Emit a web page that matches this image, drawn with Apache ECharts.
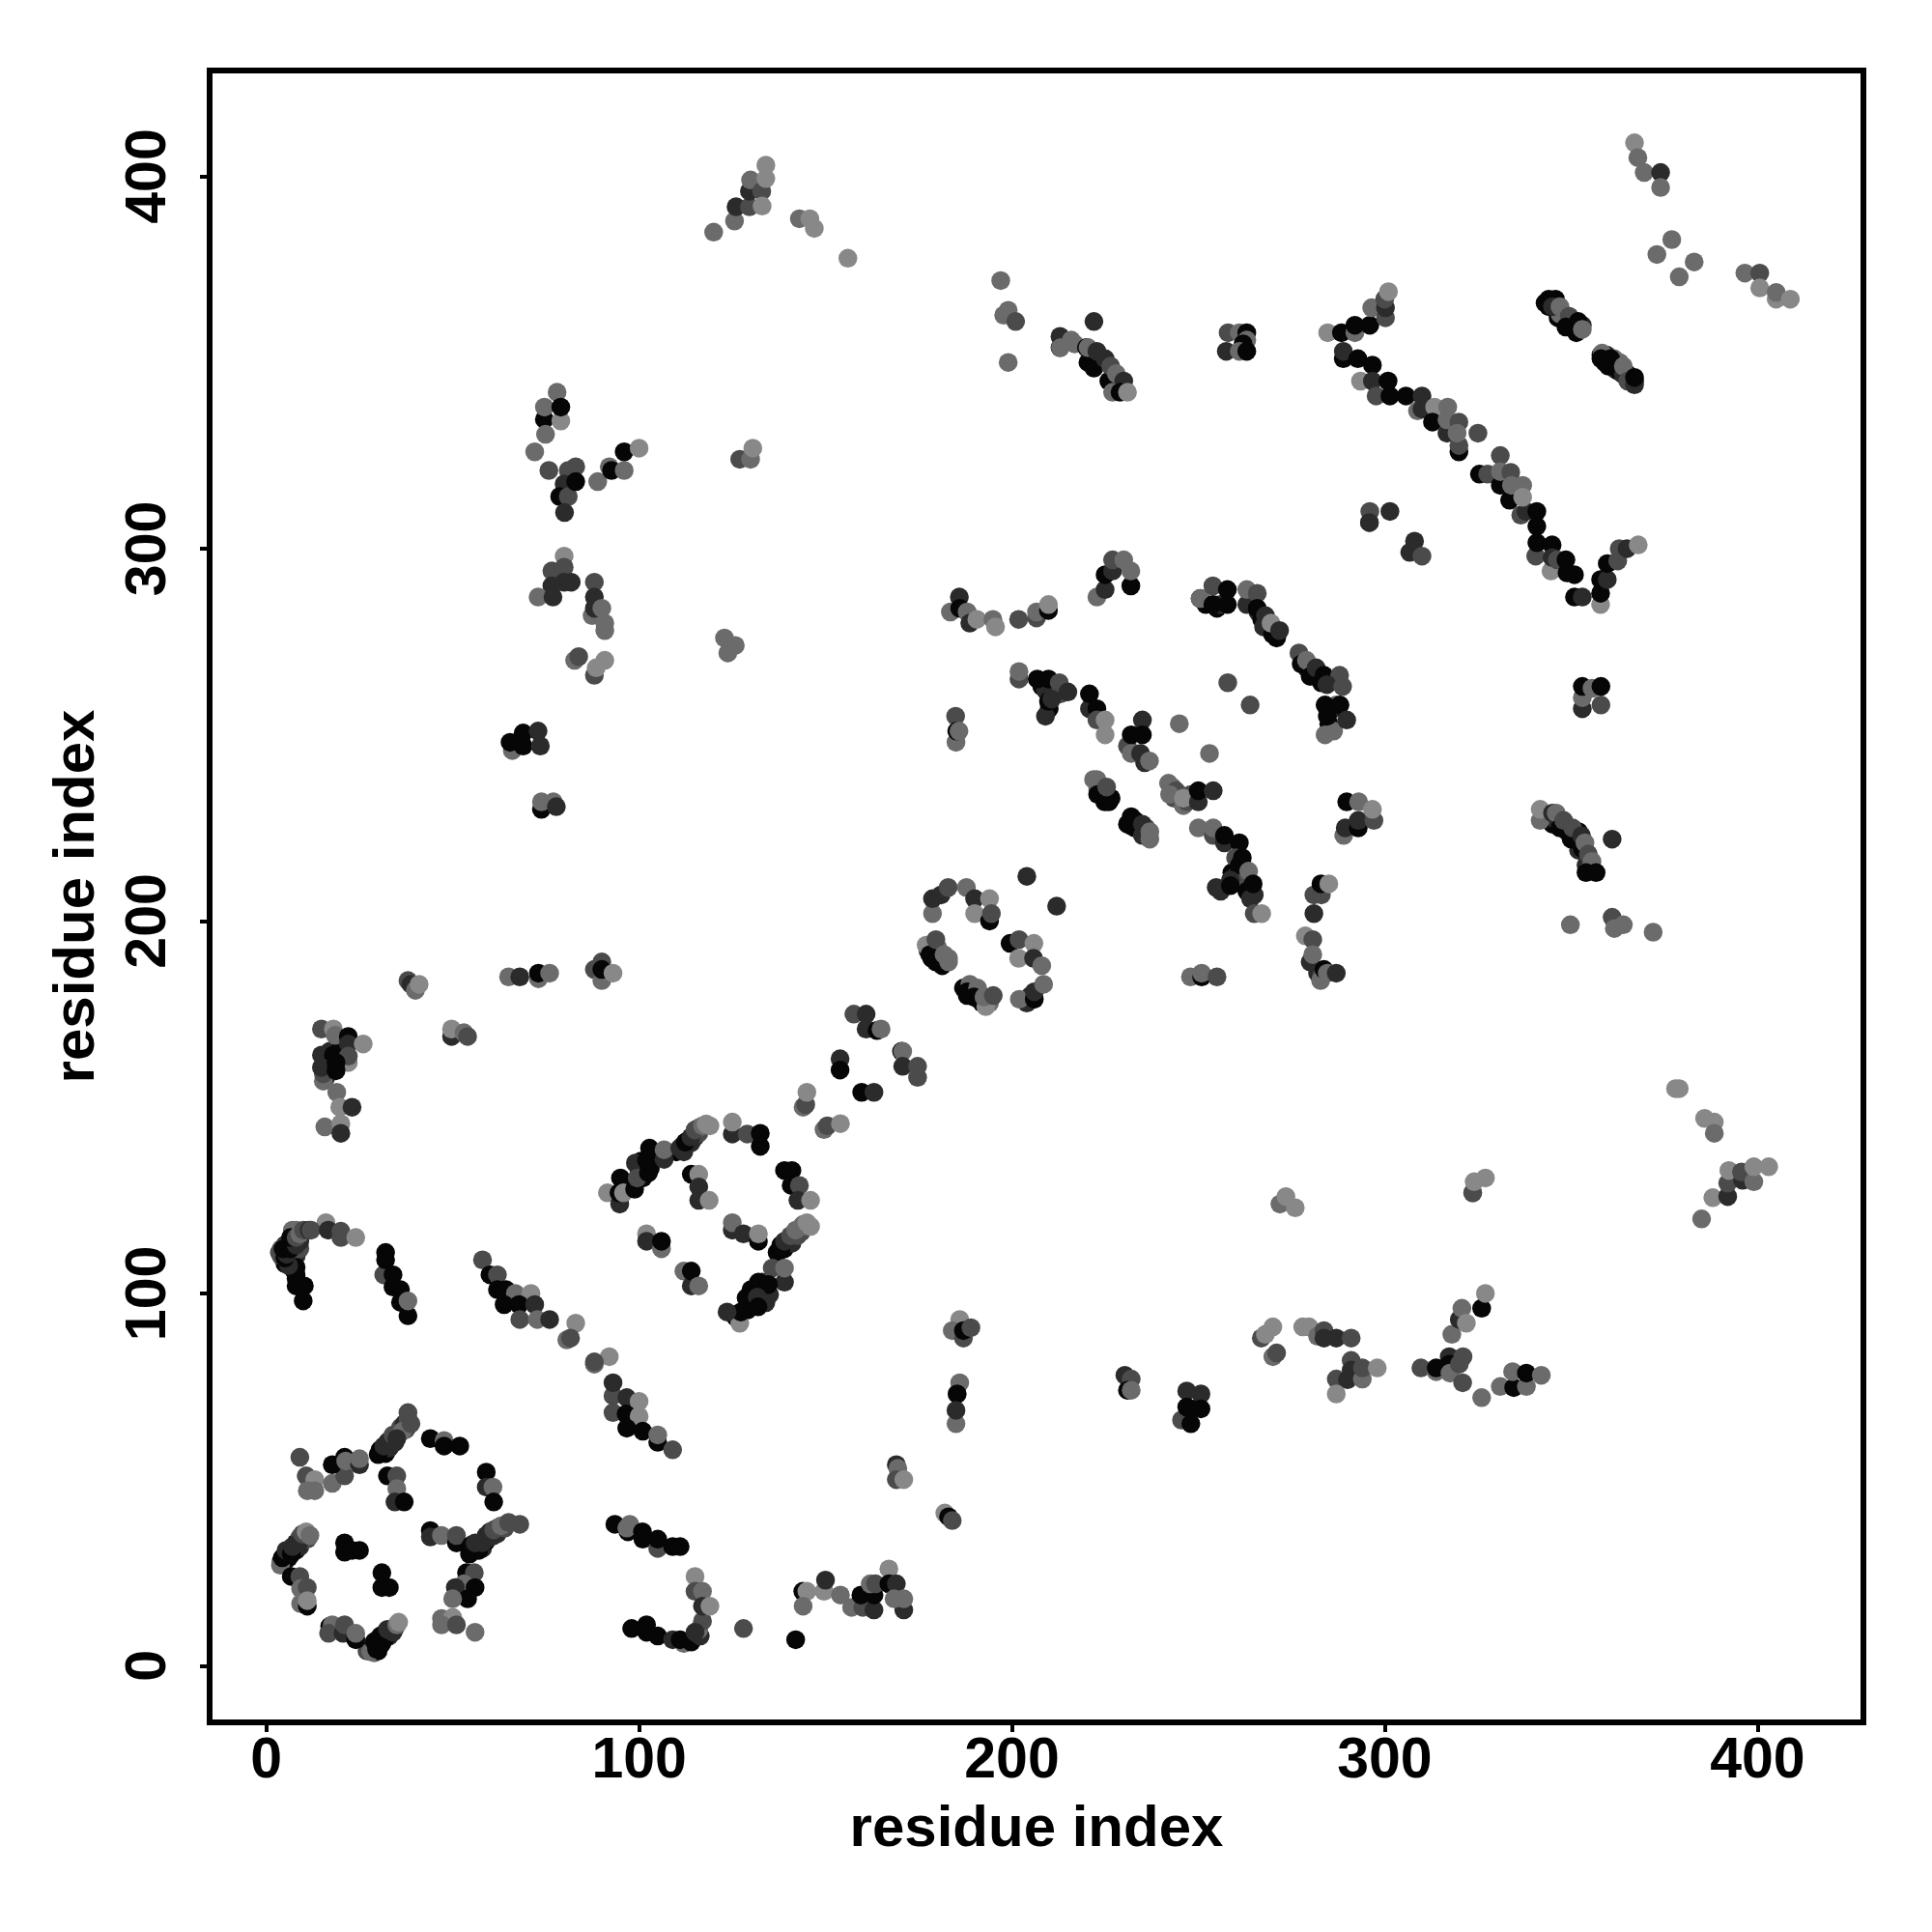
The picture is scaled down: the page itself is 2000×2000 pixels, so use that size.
<!DOCTYPE html>
<html><head><meta charset="utf-8">
<style>html,body{margin:0;padding:0;background:#fff}#c{width:2000px;height:2000px}</style>
<script src="https://cdn.jsdelivr.net/npm/echarts@6/dist/echarts.min.js"></script>
</head><body><div id="c"></div>
<script>
// each contact: [residue i, residue j, strength level 0 (strong) .. 4 (weak)]
const tickValues=[0,100,200,300,400];
const underBandsA=[[30.5,58,0],[32,57,0],[32.5,60,0],[33,58.5,1],[34,61,0],[34.5,60,1],[35.5,62.5,1],[36,64,2],[37,65,1],[37.5,63.5,2],[38,66.5,2],[54.5,30,0],[56,31,0],[57,33,0],[58,31.5,1],[59,33.5,0],[60,34.5,1],[61,35,1],[62,37,2],[62,35.5,1],[64,37,2],[4,28,0],[5,28,1],[6,29,0],[6,31,0],[7,30.5,0],[8,31,0],[8,33,0],[9,32,1],[10,34,1],[9,34.5,2],[11,34,2],[27,4,2],[29,3.5,3],[28.5,5,0],[30,4,0],[30,5,0],[31.5,7,0],[33,8,1],[33.5,9.5,1],[32,9,1],[34.5,10,2]];
const underBandsB=[[5,108,0],[6,109,0],[7,110,0],[7.5,108,0],[6,111,0],[8,110,1],[7.5,106,0],[8,107,0],[8,104,0],[9,112,2],[9,114,1],[7,117,3],[8,117,3],[5,113,1],[4,112,3],[4,110,2],[110,138,0],[111.5,139.5,1],[113,141,0],[114,140.5,1],[115,142,1],[116,143,2],[116,144.5,3],[112,138,1],[137,111,0],[138,113,0],[139,112,0],[140,114,0],[141,113.5,1],[141.5,116,1],[142.5,115.5,2],[143.5,116.5,2],[144,118.5,3],[100,133,0],[101,131,0],[103,133.5,0],[103.5,136.5,0],[100.5,135.5,0],[97,129,0],[96,130,0],[130,101,0],[133,100,0],[129.5,97,0],[133,103,1],[130,96.4,0],[126,93.5,0],[134,97.5,1],[129,95.5,0]];
const underBandsC=[[343,366,0],[344,365,0],[346,364,0],[346.5,362,0],[348,363,1],[350,361,0],[351,359,0],[353,360,1],[350,360,2],[347,363,3],[358,352,0],[359,350,0],[361,350,0],[362,348,1],[362,349,2],[363,347.5,0],[365,347,0],[366,345,0],[366,346,2],[359.5,352,1],[361.5,351,3],[363,350,3],[367,345,0],[252,285,0],[255,284,0],[256,285,1],[266,283,1],[267,281,0],[269,279,0],[271,276,0],[279,268,1],[280,267,0],[281,266,2],[283,264,0],[286,257,0],[285,253,0],[284,250,3],[285,256,1],[287,258,3],[208,263,0],[211,262,0],[209,262,1],[210,257,0],[213,261,2]];
const underBandsD=[[224,234,0],[225,235,1],[226,232,0],[243,236,3],[245,234,3],[243.5,233,2],[246,231,3],[248,234,2],[231,226,0],[233,225,0],[232,228,0],[236,225,2],[259,213,0],[260,212,1],[261,213,0],[262,212,2],[263,208,0],[264,206,1],[256,208,1],[177.5,192,1],[178.5,190,0],[180,190,1],[180,193,3],[183,190,3],[187,182,0],[188,180,0],[190,181,1],[191,179,1],[192,178,0],[194,178,3],[205,180,1],[204,178,1],[343,228,1],[344,227,0],[345,226,0],[346,227,1],[349,224,0],[351,223,0],[352,219,1],[352,224,0],[354,215,1],[355,214,2],[354.5,213.5,3],[282,186,1],[283,185,2],[16,162,0],[17,165,1],[16,158,1],[16,163,1],[20,162,0],[20,166,0]];
const upperMidA=[[197,372,3],[197.8,362.7,3],[199,364,3],[201,361,2],[199,350,3],[222,361,1],[258,358,2],[261,358,3],[263,358,0],[263,356,3],[257.5,353,1],[262,355,0],[261,353,3],[263,353,0]];
const upperMidB=[[212.9,357,1],[212.9,354,0],[213,354,3],[215.9,356,3],[216.8,355,3],[220,354,0],[220.4,350,0],[220.4,354,3],[222,348.5,0],[222.8,353,1],[225,351,1],[226,345,0],[226.5,349,2],[228,347,3],[230,345,1],[227,342,3],[229,342,0],[231,342,4]];
const lowerLeftArc=[[16,119,4],[8,105,0],[6,107.5,1],[3.5,111,2],[5,109.5,0],[5.5,110.5,1],[4.5,112,0],[6.5,112,0],[7,113.5,0],[8,113,1],[6.5,115,0],[8,115,2],[9,116,3],[10,117,2],[11.5,117,1],[12,117,2],[16.6,117,1],[20,116.7,2],[20,115,2],[24,115,4],[9.9,98,0],[8,102,0],[10.2,102,0]];
const stem1=[[31.5,105,2],[32,111,0],[32,109,0],[34,105,0],[34,101.7,0],[36,101,0],[36,97.6,0],[38,94,0],[38,98,3]];
const diagA=[[58,109,2],[60,105,0],[62,105,2],[62,101,0],[64.3,101,0],[66.8,100,3],[71,100,4],[67.8,97,0],[63.8,97,0],[72,97,1],[68,93,2],[72.7,93,3],[76,93,1],[83,92,4],[80.6,87.5,3],[81.6,88,2],[92,83,4],[88,81,3],[88,81.6,2]];
const diagB=[[93,72.5,2],[93,68,2],[93,76,1],[96.7,72,1],[100,71,4],[96.5,67.6,0],[100,67,4],[96.7,63.8,0],[101,63,0],[105,60,0],[105,62,3],[109,58,2]];
const ringA1=[[9,56,2],[10.7,51,2],[13,50,4],[11,47,3],[13,47,3],[17.7,49,3],[21,51,2],[17.7,54,0],[21,56,0],[21.3,55,3],[25,54,1],[25,55.6,3],[30,56.7,0],[31.5,59,1],[33,60.5,1],[34,62,2],[36.5,63,3],[35,61,1],[38,68,2],[38.8,65,2]];
const ringA2=[[32.5,51,0],[35,51,2],[35,47.6,3],[34.5,44,1],[37,44,0],[44,61,0],[47.7,60.5,3],[47.7,59,0],[51.9,59,0],[59,52,0],[59,48,1],[60.8,48,3],[61,44,0],[44,36.3,0],[44,34.6,1],[47,35,3],[51,33,0],[51,35,2]];
const ringA3=[[57,31,0],[55,32.4,0],[56,33,1],[58,33,1],[59,35,1],[60,36,1],[61,36.5,2],[63,37.6,3],[65,38.5,2],[68,38,2],[3.8,27,3],[4.3,29,0],[5.3,31,1],[6.7,30,0],[7,32,1],[8.7,33,1],[9.7,35.4,2],[10.7,36,4],[11.7,35,3],[21,33,0],[21,30.5,0],[23,31,0],[25,31,0],[31,25,0],[31,21,0],[33,21,0]];
const ringA4=[[6.7,24,0],[9,24,2],[9.2,20.7,3],[11,21,2],[9.2,16.7,3],[11,16,0],[11,17.5,4],[53.7,25,0],[55.8,25,2],[53,22,3],[56,21,0],[50.7,21,1],[54,18,0],[50,18,3],[47,12.7,3],[50,13,4],[47,11,3],[51,11,2],[56,9,3],[17,10.6,0],[17.7,11,3],[16.7,8.7,2],[20.6,8.7,1],[21,11,2],[24,7,0],[24,8.7,3],[28,3.8,3],[29.6,4.4,0],[29,6.5,0],[31,6,0],[30.6,8,0],[32,7.6,0],[32.5,9.8,1],[34,9,1],[35,11,3],[35.5,11.7,4]];
const ringB1=[[91.5,127,4],[94.8,124,1],[95,131,0],[94.6,127,0],[95.8,127,4],[98.8,128,0],[99,135,1],[99.5,131,2],[102.5,132.4,0],[102,135.7,0],[102.8,139,0],[106.7,136,1],[106.7,138.6,3],[110.9,139,1],[112.4,140.6,0],[113.9,142,1],[115,143.9,2],[117,145,3],[118,145.5,4],[119,145,4]];
const ringB2=[[125,142.8,1],[125,146,4],[129,142.8,2],[132.5,143,0],[132.5,139.5,0],[139,133,0],[141,133,0],[140.8,129,0],[143,129,2],[142.6,125,1],[146,125,4],[114,132,0],[116,132,4],[116,128.6,1],[116,125,1],[118.8,125,4],[125,117,1],[125,119,3],[128,116,1],[132,114,0],[132,116,4],[102,116,4],[102,114,1],[106,112,3],[106,114,0],[112,106,3],[114,102,1],[114,106,0],[116,102,3]];
const ringB3=[[138,111.7,0],[139,114,1],[140.6,115.5,2],[142,117,3],[143.6,118,3],[145,119,4],[146,118,4],[135.7,106.8,2],[139,103,1],[139,106.8,3],[132,103,0],[135,99.7,1],[134.7,102.4,0],[128.7,98.8,0],[131.7,99,1],[131.9,96.4,0],[127,92,4],[127.3,95,0],[123.6,95,1]];
const lowerMid=[[186,93,4],[184,90,3],[187,88,2],[187,90,0],[189,90.8,2],[185.3,73,3],[186,76,3],[185.3,73,0],[185,65,3],[185,68.6,1],[169,54,1],[169.4,53,3],[169,50,2],[171,50,4],[182,41,4],[183,40,0],[184,39,2],[230.3,78,1],[232,77,2],[231,74,0],[232,74,3]];
const stripC=[[93.5,38,0],[97,36,0],[96.7,37,3],[97.5,38,3],[100.9,36,0],[101,34,0],[105,31.5,2],[105,34,0],[109,32,0],[111,32,0]];
const hookD=[[98,10,0],[102,9,0],[102,11,0],[105,8,0],[109,7,1],[112,6,3],[111,7,0],[114,6.4,0],[116.4,8,1],[116,9.7,3],[117,12,2],[115,9,1],[115,24,4],[115,20,2],[117,20,3],[117,16,1],[119,16,4],[128,10,2],[142,7,0]];
const clusterE=[[143.9,20,0],[145,20,4],[144,16,3],[149.6,20,4],[150,23,1],[154,19,3],[157,15.7,3],[160,15.7,2],[159.5,19,0],[163,15,1],[163,19,0],[162,22,3],[163.4,22,2],[167,26,4],[167,22,0],[169,22,1],[171,15,1],[168.4,18,3],[171,18,3]];
const topMid=[[120,385,3],[125.6,388,3],[126,391.8,1],[129.6,391.8,2],[129.6,396,1],[129.9,399,3],[132.9,396,2],[133,392,4],[134,399.4,4],[134,403,4],[143,388.6,3],[145.8,388.6,4],[147,386,4],[156,378,4]];
const upperLeft1=[[78,342,3],[74.6,334.7,0],[74.6,338,3],[79,334.3,4],[79,338,0],[74.9,330.7,3],[72,326,3],[75.8,321,2],[81,321,2],[79.9,317.4,1],[78.7,314,0],[81,314,2],[83,322,2],[83,318,0],[80,309.7,1],[88.9,318,3],[92,322,3],[92.6,321,0],[96,321,3],[96,326,0],[100,327,4],[127,324,2],[129.9,324,3],[130.5,327,4]];
const upperLeft2=[[79.9,298,4],[76.6,294,2],[79.9,295,2],[76.6,290,1],[79.9,291,1],[81.8,291,1],[72.9,287,3],[76.9,287,1],[88,291,2],[88,287,1],[87.4,282,3],[88,284,1],[90,284,3],[90.8,280,3],[90.8,278,3],[122.9,276,3],[123.8,272,3],[125.8,274,3],[82.7,270,3],[83.8,271,2],[88,266,2],[88.5,268,4],[90.8,270,4]];
const leftMid1=[[66,245.8,3],[65.4,248,0],[68.9,250.5,0],[68.9,247,0],[72.9,251,1],[73.5,247,1],[73.8,230,0],[73.8,232,3],[77,232,3],[77.8,230.7,1],[38,184,2],[38.8,183,1],[40,181.4,3],[41,183,4],[65,185,3],[68,185,1],[73,184.5,3],[73,186,0],[76,186,3],[88,187,2],[90,189,2],[90,184,3],[90,187,0],[93,186,4]];
const leftMid2=[[14.8,171,2],[18,171,4],[18.5,169.3,3],[22,169,0],[22,167,1],[26,167,4],[15.3,157,3],[15.3,159,2],[14.8,164,1],[18,164,0],[22,162,4],[22,163.7,2],[14.8,160.7,1],[18.7,162,0],[18.7,159.8,0],[18.9,154,3],[19.7,150,4],[23,150,1],[15.7,144.7,3],[20,145.6,4],[20,143,1],[49.7,169,1],[49.7,171,4],[53,170,3],[54,169,2]];
const leftMid3=[[157.6,175,2],[160.9,175,1],[160.9,171,1],[163.8,170.6,0],[164.9,171,3],[153.9,163,1],[153.9,160,0],[159.7,154,0],[163,154,1],[170.4,165,0],[170.7,165,3],[170.7,161,1],[174.7,161,2],[174.7,158,2],[144,150,3],[144.7,150.7,2],[145,154,4],[149.6,144,3],[150.5,145,2],[154,145.6,4]];
const midBands1=[[185.9,287,1],[183.5,283,3],[186,284,0],[188,283,3],[188.7,280,1],[190.6,281,4],[194.9,281,3],[195.6,279,4],[201.8,281,2],[206.6,281.4,2],[206.6,283,3],[209.8,283.4,0],[209.8,285,4],[222.8,287,3],[225,289,1],[225,293,0],[227,294,1],[227,297,2],[230,297,3],[231.9,290,0],[231.9,294,3]];
const midBands2=[[250.5,286.6,0],[250.5,286.6,3],[253.9,285,0],[253.9,290,2],[257.8,289,0],[257.8,285,0],[263,285,1],[263,289,3],[265.8,288,2],[265.8,284,0],[268,282,1],[267.5,279,1],[269.9,277,0],[269.5,280,4],[271.8,278,1],[277,272,2],[277.6,269,0],[279,270,3],[280,265.7,0],[281.6,268,1],[283.7,266,0],[287.9,266,2],[284.5,263.5,1],[288.7,263,2],[284,258,0],[288,258,0],[286.3,251,3],[284.6,255,0],[289.8,254,1]];
const midBands3=[[201.9,265,2],[201.9,267,3],[206.8,265,0],[209.8,265,0],[212.7,264,2],[209,255,1],[209.8,259,0],[210.7,259.6,1],[215,261.5,1],[220.8,257,1],[220.8,261,0],[222.8,257,0],[222.8,254,2],[225,250,4],[225,254,4],[184.9,255,2],[185,248,3],[185.2,251,0],[185.8,251,3],[231,247,2],[232,250,0],[232,245,3],[234.5,245,1],[235,254,1],[235,250,0],[235.6,242.5,1],[236.9,243,3],[244.9,253,3],[253,245,3],[257.9,264,2],[263.9,258,2]];
const midBands4=[[221.9,238,3],[222.8,238,3],[223,235.5,3],[224.9,232,0],[226.6,233,0],[223,234,0],[225.4,236,2],[242,237,3],[244,235,2],[242.3,234,3],[247,232,2],[246,233,4],[250,232,1],[250,235,0],[254,235,1],[232,225.6,0],[233,227,0],[235,226,1],[235,223,1],[237,222,3],[237,224,3]];
const midBands5=[[250,225,3],[254,223,2],[254,225,3],[257,221,1],[257,223,0],[261,221,0],[260,217,2],[261.8,217,0],[261,215,0],[263.5,213.4,3],[254.8,209,1],[258.6,211,1],[258.6,209.5,0],[265,207,1],[264.7,210,0],[265,202,2],[267,202,4],[204,212,1],[212,204,1]];
const ringC=[[178.7,202,3],[178.7,206,1],[181,207,1],[182.9,209,2],[187.8,209,3],[190,206,1],[190,202,4],[194,206,4],[194,200,0],[194.5,202,2],[177,193.5,4],[178,191,0],[179.6,195,2],[179.6,189,0],[181.3,188,0],[181.8,191,3],[183,189,3],[199.5,194,0],[201.9,195,2],[205.9,194,4],[201.8,190,4],[205.8,190,1],[208,188,3],[202,179,3],[206,179,0],[206,181,1],[208.5,183,3],[188.7,183,3],[188,181,0],[190.8,182,3],[189.8,179.6,0],[193,177,4],[192.5,179.6,3],[195,180,2]];
const rightMid=[[289,223,3],[289.4,225,1],[292.9,225,0],[292.9,227,1],[297.1,227,2],[289.8,232,0],[293,232,3],[296.7,230,4],[281,207,2],[283,207,2],[282.9,210,0],[285,210,4],[281,202,1],[278.7,196,4],[280.7,195,2],[280,189,1],[280.7,191,3],[282.8,184,3],[283.7,187,0],[284.6,186,3],[287,186,1],[247.9,185,3],[250.9,185,0],[250.9,186,3],[255,185,2]];
const longBand1=[[284.7,358,4],[288.4,358,0],[292,358,3],[292,360,0],[296,360,0],[296.5,364.7,3],[300.2,362,2],[300.2,364.7,1],[300,367,2],[301,369,4],[288.9,351,0],[288.9,353,1],[292.8,351,0],[296.7,349.3,0],[293.5,345,4],[296.7,345,1],[300.9,345,0],[297.7,341,2],[301.4,341,0],[305.7,341,0],[310,341,1],[308.8,337,3],[310,337.5,1],[313.4,338,4],[316.9,338,3],[312.8,334,0],[316.7,331,1],[316.7,334.6,3],[319.9,334,2],[319.9,326,0],[319.9,327.7,2],[319.4,331,3],[325,331,2]];
const longBand2=[[331,325,2],[325.4,320,0],[327.6,320,2],[331,317,0],[331,320.7,3],[333.8,320.5,2],[333.5,313,0],[334,317,3],[336.5,309,2],[337,317,3],[337.9,310,1],[337,313.8,4],[340.8,310,0],[340.8,306,0],[340.5,298,2],[340.8,301.6,0],[344.6,294,4],[344.9,301,0],[344.9,297.6,1],[346.3,297,2],[348.6,297,0],[348.9,293.5,0],[350.9,293,0],[350.9,287,0],[353,287,1],[357.9,285,4],[357.9,288,0],[357.9,291.7,0],[359.7,291.7,1],[359.7,296,0],[362.5,296.7,2],[362.9,300,2],[365,300,1],[368,301,4]];
const rightSmall=[[353,257,1],[353,260,3],[353,263,0],[358,258,2],[355.6,262.5,3],[358,263,0],[295.9,307,3],[296,310,2],[301.4,310,1],[295.9,307,1],[308,302,1],[306.7,299,1],[310,298,2]];
const shortBands=[[344,367,0],[345.8,367,0],[345,365,1],[347,365,3],[349.5,362.4,2],[348.6,359.5,0],[351.9,361,0],[351.4,358,0],[353,358.9,3],[358.3,352.5,3],[358,351,0],[360,349,0],[360.6,351,0],[364,346.7,1],[364,349,3],[365.2,345,2],[367,344,1],[367,346,0]];
const rightBand=[[341.7,227,3],[341.7,230,4],[345,229,1],[346,229,3],[347,225,0],[348,227,2],[350,222,0],[350.4,225,2],[353,219.5,0],[352.8,222.9,1],[353.7,221,3],[354.6,218,2],[355.6,216,3],[354,213,0],[356.7,213,0],[361,222,1],[349.8,199,3],[361,201,2],[361.6,198,3],[364,199,3],[372,197,3]];
const topRight=[[367,409,4],[367.9,405,3],[369.6,401,3],[374,401,1],[374,397,3],[377,383,3],[373,379,3],[379,373,3],[383,377,3],[396.6,374,3],[400.6,374,2],[400.6,370,4],[405,367,4],[405,368.8,3],[408.8,367,4]];
const farRight=[[378,155,4],[379,155,4],[385.8,147,4],[388.4,146,4],[388.4,143,3],[385,120,3],[388,125.7,4],[392,126,1],[392,129.6,2],[392.3,133,4],[396,130.4,1],[395.7,132.6,2],[399,130,3],[399,134,4],[403,134,4],[323.6,127,3],[323.6,127,2],[324,130,4],[327,131,4],[271.9,124,3],[273.5,126,4],[276,123,4]];
const lowerRight1=[[246.9,73.8,1],[250.7,73,1],[245.5,66,2],[246.9,69.5,0],[250.7,69,0],[248,69,0],[248,65,0],[266.9,88,2],[268,89,4],[270,91,4],[270,83,3],[271,84,2],[278,91,4],[279.7,91,4],[282,88.5,3],[283.7,90,2],[283.7,88,1],[287,88,1],[291,88,2],[291,82,2],[291,79.4,1],[287,77,2],[290,76.8,1],[294,77,3],[294,80,2],[298,80,4],[287,73,4]];
const lowerRight2=[[309.7,80,2],[313.8,79,3],[313.8,80,0],[317.3,83,1],[317.3,81,0],[317.5,78.6,3],[320,81,2],[321,83,2],[320.9,76,2],[326,72,3],[318,89,3],[320,93,1],[320.7,96,3],[321.9,92,4],[326,96,0],[327,100,4],[331,75,3],[334.6,74.7,0],[338,75,3],[334.3,79,3],[338,78.6,0],[342,78,3]];

const contacts=[].concat(underBandsA,underBandsB,underBandsC,underBandsD,upperMidA,upperMidB,lowerLeftArc,stem1,diagA,diagB,ringA1,ringA2,ringA3,ringA4,ringB1,ringB2,ringB3,lowerMid,stripC,hookD,clusterE,topMid,upperLeft1,upperLeft2,leftMid1,leftMid2,leftMid3,midBands1,midBands2,midBands3,midBands4,midBands5,ringC,rightMid,longBand1,longBand2,rightSmall,shortBands,rightBand,topRight,farRight,lowerRight1,lowerRight2);
const greys=['#060606','#2b2b2b','#4b4b4b','#6b6b6b','#888888'];
const font='"Liberation Sans"';
function axis(name,rotate,nameGap,nameRotate,margin){return {
  type:'value',min:-15.2,max:428.4,name:name,nameLocation:'middle',nameGap:nameGap,nameRotate:nameRotate,
  nameTextStyle:{fontFamily:font,fontWeight:'bold',fontSize:60,color:'#000'},
  axisLine:{show:false,onZero:false},splitLine:{show:false},
  axisTick:{show:true,length:10,lineStyle:{color:'#000',width:4},customValues:tickValues},
  axisLabel:{show:true,rotate:rotate,margin:margin,fontFamily:font,fontWeight:'bold',fontSize:59,color:'#000',customValues:tickValues,showMinLabel:true,showMaxLabel:true,hideOverlap:false}
};}
const chart=echarts.init(document.getElementById('c'),null,{renderer:'canvas',width:2000,height:2000});
chart.setOption({
  animation:false,backgroundColor:'#fff',
  grid:{show:true,left:217,top:73,width:1712,height:1710,borderColor:'#000',borderWidth:6,backgroundColor:'transparent',containLabel:false},
  xAxis:axis('residue index',0,81,0,11),
  yAxis:axis('residue index',90,107,90,33),
  series:[{type:'scatter',symbol:'circle',symbolSize:19.5,data:contacts,
    encode:{x:0,y:1},large:false,
    itemStyle:{opacity:1,color:function(p){return greys[p.value[2]];}}}]
});
</script></body></html>
